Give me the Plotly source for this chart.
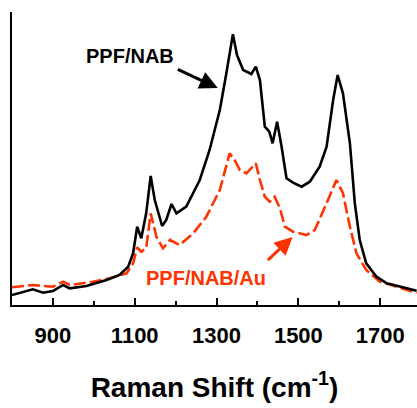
import plotly.graph_objects as go

# Raman shift (cm^-1) and intensities (arbitrary units)
wn_nab = [800, 851, 876, 900, 925, 941, 982, 1031, 1063, 1084, 1096, 1106, 1116, 1128, 1139,
          1149, 1167, 1177, 1190, 1202, 1226, 1259, 1283, 1308, 1324, 1340, 1350, 1365, 1385,
          1396, 1406, 1418, 1429, 1437, 1448, 1459, 1471, 1487, 1508, 1528, 1552, 1569, 1585,
          1596, 1609, 1626, 1638, 1650, 1666, 1691, 1716, 1748, 1789]
int_nab = [10, 15.7, 12.3, 14, 20, 16.7, 19, 25, 30, 38.3, 51.7, 78.3, 66.7, 91.7, 129,
           105, 79, 85, 101, 91.7, 98.3, 125, 155, 195, 231.7, 270.7, 250, 235, 231,
           238.3, 225, 178.3, 173.3, 161.7, 183.3, 158.3, 126.7, 122.3, 118.3, 123.3, 138.3, 158.3, 205,
           230, 211.7, 161.7, 101.7, 65, 41.7, 28.3, 21.7, 18.3, 14.3]

wn_au = [800, 851, 900, 925, 941, 998, 1039, 1080, 1096, 1106, 1116, 1128, 1139, 1153, 1169,
         1186, 1210, 1243, 1275, 1308, 1332, 1344, 1357, 1373, 1396, 1406, 1418, 1430, 1442,
         1455, 1467, 1487, 1520, 1540, 1569, 1593, 1609, 1626, 1642, 1666, 1699, 1748, 1789]
int_au = [17.7, 20, 18.3, 23.3, 20, 23.3, 26.7, 31.7, 41.7, 57.7, 53.3, 56.7, 91.7, 68.3, 56.7,
          65, 60, 71.7, 88.3, 115, 151.7, 145, 135, 131.7, 141.7, 125, 108.3, 103.3, 108.3,
          96.7, 78.3, 73.3, 70, 75, 101.7, 125, 111.7, 78.3, 51.7, 35, 23.3, 17.7, 12.3]

tick_vals = [900, 1100, 1300, 1500, 1700]
tick_text = ["900", "1100", "1300", "1500", "1700"]

RED = "#FF3300"
FONT = "Liberation Sans, Arial, sans-serif"

fig = go.Figure()
fig.add_trace(go.Scatter(x=wn_au, y=int_au, mode="lines",
                         line=dict(color=RED, width=2.6, dash="12px,4px"),
                         showlegend=False, hoverinfo="skip"))
fig.add_trace(go.Scatter(x=wn_nab, y=int_nab, mode="lines",
                         line=dict(color="black", width=2.6),
                         showlegend=False, hoverinfo="skip"))

fig.add_annotation(x=1088, y=249, xref="x", yref="y", text="<b>PPF/NAB</b>",
                   showarrow=False, font=dict(family=FONT, size=20, color="black"))
fig.add_annotation(x=1303, y=217, ax=1198, ay=237, xref="x", yref="y", axref="x", ayref="y",
                   text=" ", showarrow=True, arrowhead=2, arrowsize=1.2, arrowwidth=3,
                   arrowcolor="black")
fig.add_annotation(x=1274, y=27, xref="x", yref="y", text="<b>PPF/NAB/Au</b>",
                   showarrow=False, font=dict(family=FONT, size=20, color=RED))
fig.add_annotation(x=1486, y=68, ax=1418, ay=42, xref="x", yref="y", axref="x", ayref="y",
                   text=" ", showarrow=True, arrowhead=2, arrowsize=1.2, arrowwidth=3,
                   arrowcolor=RED)

fig.update_layout(
    width=417, height=408,
    margin=dict(l=12, r=0, t=12, b=103),
    paper_bgcolor="white", plot_bgcolor="white",
    font=dict(family=FONT, color="black"),
)
fig.update_xaxes(range=[800, 1790], showline=True, linecolor="black", linewidth=1.5,
                 showgrid=False, zeroline=False, ticks="inside", ticklen=7, tickwidth=1.5,
                 tickcolor="black", tickvals=tick_vals, ticktext=tick_text,
                 tickfont=dict(family=FONT, size=22, color="black", weight="bold"),
                 ticklabelstandoff=10,
                 minor=dict(ticks="inside", ticklen=4, tickwidth=1.5, tickcolor="black",
                            tickvals=[1000, 1200, 1400, 1600], showgrid=False),
                 title=dict(text="<b>Raman Shift (cm<sup>-1</sup>)</b>",
                            font=dict(family=FONT, size=28, color="black"), standoff=30))
fig.update_yaxes(range=[0, 293], showline=True, linecolor="black", linewidth=1.5,
                 showgrid=False, zeroline=False, showticklabels=False, ticks="")

fig.write_html("out.html")
